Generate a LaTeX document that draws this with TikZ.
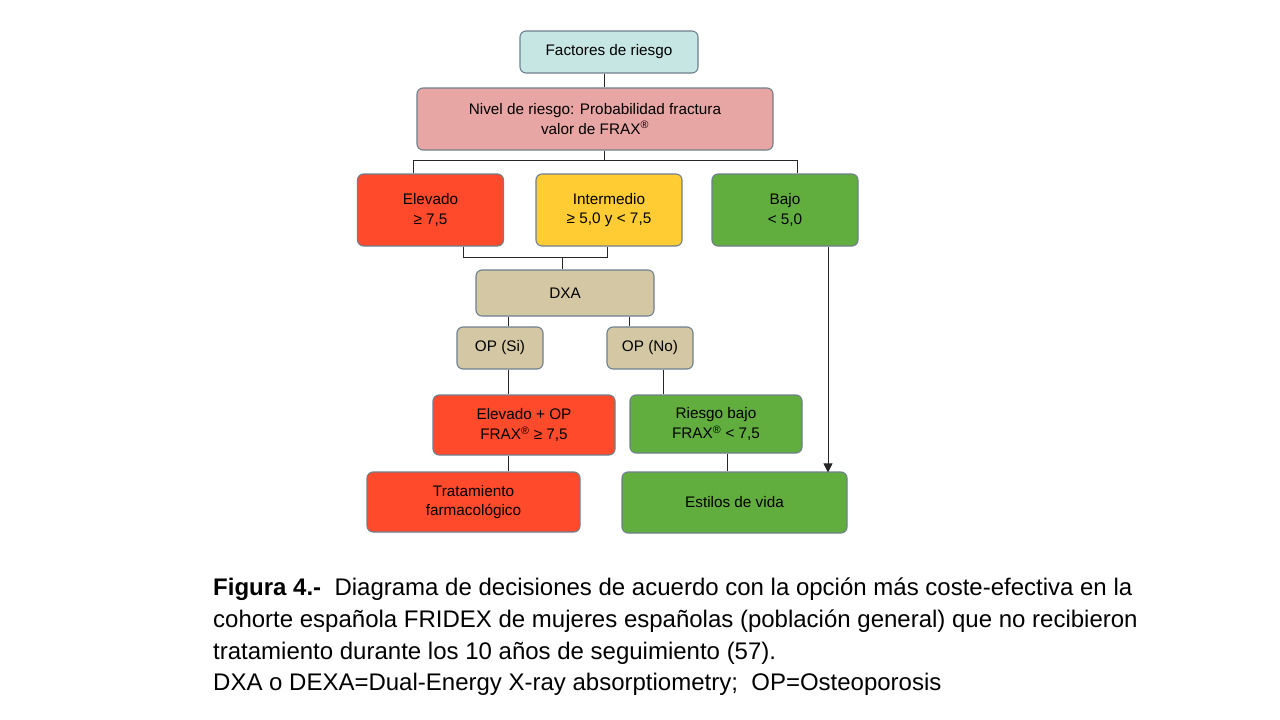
\documentclass[tikz,border=0pt]{standalone}
\usepackage{fontspec}
\setmainfont{Liberation Sans}
\usetikzlibrary{arrows.meta}
\definecolor{bordc}{HTML}{6E7F8E}
\definecolor{cyanf}{HTML}{C6E6E4}
\definecolor{pinkf}{HTML}{E7A6A4}
\definecolor{redf}{HTML}{FF4A2B}
\definecolor{yellowf}{HTML}{FFCC33}
\definecolor{greenf}{HTML}{61AD3D}
\definecolor{tanf}{HTML}{D3C8A3}
\tikzset{
  box/.style={draw=bordc, rounded corners=6, line width=1.1, align=center, inner sep=0,
    font=\fontsize{15.3}{19.5}\selectfont},
  conn/.style={line width=1, draw=black!85},
  captxt/.style={anchor=base west, inner sep=0, font=\fontsize{24}{28}\selectfont}
}
\newcommand{\frax}{FRAX\textsuperscript{\textregistered}}
\begin{document}
\begin{tikzpicture}[x=1pt,y=-1pt]
\useasboundingbox[fill=white] (0,0) rectangle (1280,720);
% boxes
\node[box, fill=cyanf, minimum width=178, minimum height=42] (fact) at (609,52) {Factores de riesgo};
\node[box, fill=pinkf, minimum width=356, minimum height=62] (niv) at (595,119) {Nivel de riesgo: Probabilidad fractura\\valor de \frax};
\node[box, fill=redf, minimum width=146, minimum height=72] (elev) at (430.5,210) {Elevado\\≥ 7,5};
\node[box, fill=yellowf, minimum width=146, minimum height=72] (inter) at (609,210) {Intermedio\\≥ 5,0 y < 7,5};
\node[box, fill=greenf, minimum width=146, minimum height=72] (bajo) at (785,210) {Bajo\\< 5,0};
\node[box, fill=tanf, minimum width=178, minimum height=46] (dxa) at (565,293) {DXA};
\node[box, fill=tanf, minimum width=86, minimum height=42] (opsi) at (500,348) {OP (Si)};
\node[box, fill=tanf, minimum width=86, minimum height=42] (opno) at (650,348) {OP (No)};
\node[box, fill=redf, minimum width=182, minimum height=60] (elop) at (524,425) {Elevado + OP\\\frax\ ≥ 7,5};
\node[box, fill=greenf, minimum width=172, minimum height=58] (rb) at (716,424) {Riesgo bajo\\\frax\ < 7,5};
\node[box, fill=redf, minimum width=213, minimum height=60] (trat) at (473.5,502) {Tratamiento\\farmacológico};
\node[box, fill=greenf, minimum width=225, minimum height=61] (est) at (734.5,502.5) {Estilos de vida};
% connectors
\coordinate (hb) at (604,160);
\draw[conn] (fact.south -| hb) -- (niv.north -| hb);
\draw[conn] (niv.south -| hb) -- (hb);
\coordinate (ht1) at (413,160);
\coordinate (ht3) at (797,160);
\draw[conn] (ht1 |- elev.north) -- (ht1) -- (ht3) -- (ht3 |- bajo.north);
\coordinate (lj) at (463,257);
\coordinate (rj) at (607,257);
\coordinate (mj) at (562,257);
\draw[conn] (elev.south -| lj) -- (lj) -- (rj) -- (inter.south -| rj);
\draw[conn] (mj) -- (dxa.north -| mj);
\coordinate (xs) at (508,0);
\coordinate (xn) at (629,0);
\coordinate (xn2) at (663,0);
\coordinate (xr) at (727,0);
\coordinate (xb) at (828,0);
\draw[conn] (dxa.south -| xs) -- (opsi.north -| xs);
\draw[conn] (dxa.south -| xn) -- (opno.north -| xn);
\draw[conn] (opsi.south -| xs) -- (elop.north -| xs);
\draw[conn] (opno.south -| xn2) -- (rb.north -| xn2);
\draw[conn] (elop.south -| xs) -- (trat.north -| xs);
\draw[conn] (rb.south -| xr) -- (est.north -| xr);
\draw[conn, -{Triangle[length=9,width=9]}] (bajo.south -| xb) -- ([yshift=-1]est.north -| xb);
% caption
\node[captxt] (c1) at (213,595) {\textbf{Figura 4.-}\ \ Diagrama de decisiones de acuerdo con la opción más coste-efectiva en la};
\node[captxt] (c2) at (213,627) {cohorte española FRIDEX de mujeres españolas (población general) que no recibieron};
\node[captxt] (c3) at (213,659) {tratamiento durante los 10 años de seguimiento (57).};
\node[captxt] (c4) at (213,690) {DXA o DEXA=Dual-Energy X-ray absorptiometry;\ \ OP=Osteoporosis};
\end{tikzpicture}
\end{document}
